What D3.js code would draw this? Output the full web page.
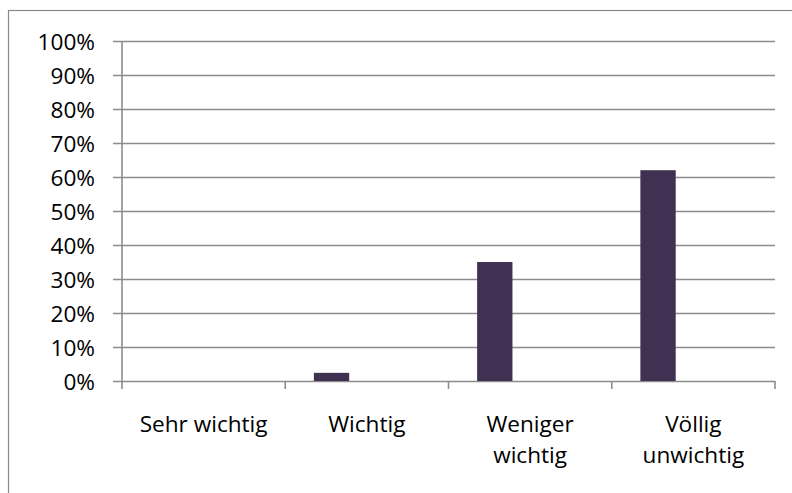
<!DOCTYPE html>
<html>
<head>
<meta charset="utf-8">
<script src="https://cdn.jsdelivr.net/npm/d3@7"></script>
<style>
  html, body { margin: 0; padding: 0; background: #fff; }
  svg { display: block; }
  text { font-family: "Open Sans", Lato, sans-serif; fill: #000; font-variant-ligatures: none; }
</style>
</head>
<body>
<svg id="chart" width="792" height="493"></svg>
<script>
// Category labels (multi-line), share values and y tick labels
const categories = [["Sehr wichtig"], ["Wichtig"], ["Weniger", "wichtig"], ["Völlig", "unwichtig"]];
const categoryKeys = ["Sehr wichtig", "Wichtig", "Weniger wichtig", "Völlig unwichtig"];
const shares = [0, 0.024, 0.35, 0.62];
const yTicks = [0, 0.1, 0.2, 0.3, 0.4, 0.5, 0.6, 0.7, 0.8, 0.9, 1.0];
// bar slots within each category; only the first slot holds data
const slots = ["s1", "s2", "s3"];

const svg = d3.select("#chart");
const margin = { left: 122, right: 17, top: 41, bottom: 112 };
const W = 792, H = 493;
const x0 = margin.left, x1 = W - margin.right;
const y0 = H - margin.bottom, y1 = margin.top;
const fontSize = "22.6px";

// outer chart frame
svg.append("rect")
  .attr("x", 8.5).attr("y", 10.5)
  .attr("width", 800).attr("height", 500)
  .attr("fill", "none").attr("stroke", "#888").attr("stroke-width", 1.2);

const x = d3.scaleBand().domain(categoryKeys).range([x0, x1]).paddingInner(0).paddingOuter(0);
const xs = d3.scaleBand().domain(slots).range([0, x.bandwidth()]).paddingInner(0).paddingOuter(0.81);
const y = d3.scaleLinear().domain([0, 1]).range([y0, y1]);

// horizontal gridlines with tick stubs on the left
const yAxis = d3.axisLeft(y)
  .tickValues(yTicks)
  .tickFormat(d3.format(".0%"))
  .tickSize(-(x1 - x0 + 9))
  .tickPadding(0);

const gy = svg.append("g").attr("transform", `translate(${x0},0)`).call(yAxis);
gy.select(".domain").remove();
gy.selectAll(".tick line")
  .attr("x1", -9)
  .attr("x2", x1 - x0)
  .attr("stroke", "#8c8c8c")
  .attr("stroke-width", 1.6);
gy.selectAll(".tick text")
  .attr("x", -27)
  .attr("dy", "0.36em")
  .style("font-size", fontSize)
  .style("font-family", "'Open Sans', sans-serif")
  .attr("fill", "#000");

// vertical axis line
svg.append("line")
  .attr("x1", x0).attr("x2", x0)
  .attr("y1", y1).attr("y2", y0 + 8)
  .attr("stroke", "#8c8c8c").attr("stroke-width", 1.6);

// category tick marks along the baseline
const bounds = categoryKeys.map(k => x(k)).concat([x1]);
svg.append("g").selectAll("line")
  .data(bounds.slice(1))
  .join("line")
  .attr("x1", d => d).attr("x2", d => d)
  .attr("y1", y0).attr("y2", y0 + 8)
  .attr("stroke", "#8c8c8c").attr("stroke-width", 1.6);

// bars
svg.append("g").selectAll("rect")
  .data(shares)
  .join("rect")
  .attr("x", (d, i) => x(categoryKeys[i]) + xs("s1"))
  .attr("width", xs.bandwidth())
  .attr("y", d => y(d))
  .attr("height", d => y0 - y(d))
  .attr("fill", "#403152");

// category labels
const labels = svg.append("g").selectAll("text")
  .data(categories)
  .join("text")
  .attr("text-anchor", "middle")
  .attr("x", (d, i) => x(categoryKeys[i]) + x.bandwidth() / 2)
  .attr("y", 432)
  .style("font-size", fontSize);
labels.selectAll("tspan")
  .data(d => d)
  .join("tspan")
  .attr("x", function () { return d3.select(this.parentNode).attr("x"); })
  .attr("dy", (d, i) => i === 0 ? 0 : 31)
  .text(d => d);
</script>
</body>
</html>
